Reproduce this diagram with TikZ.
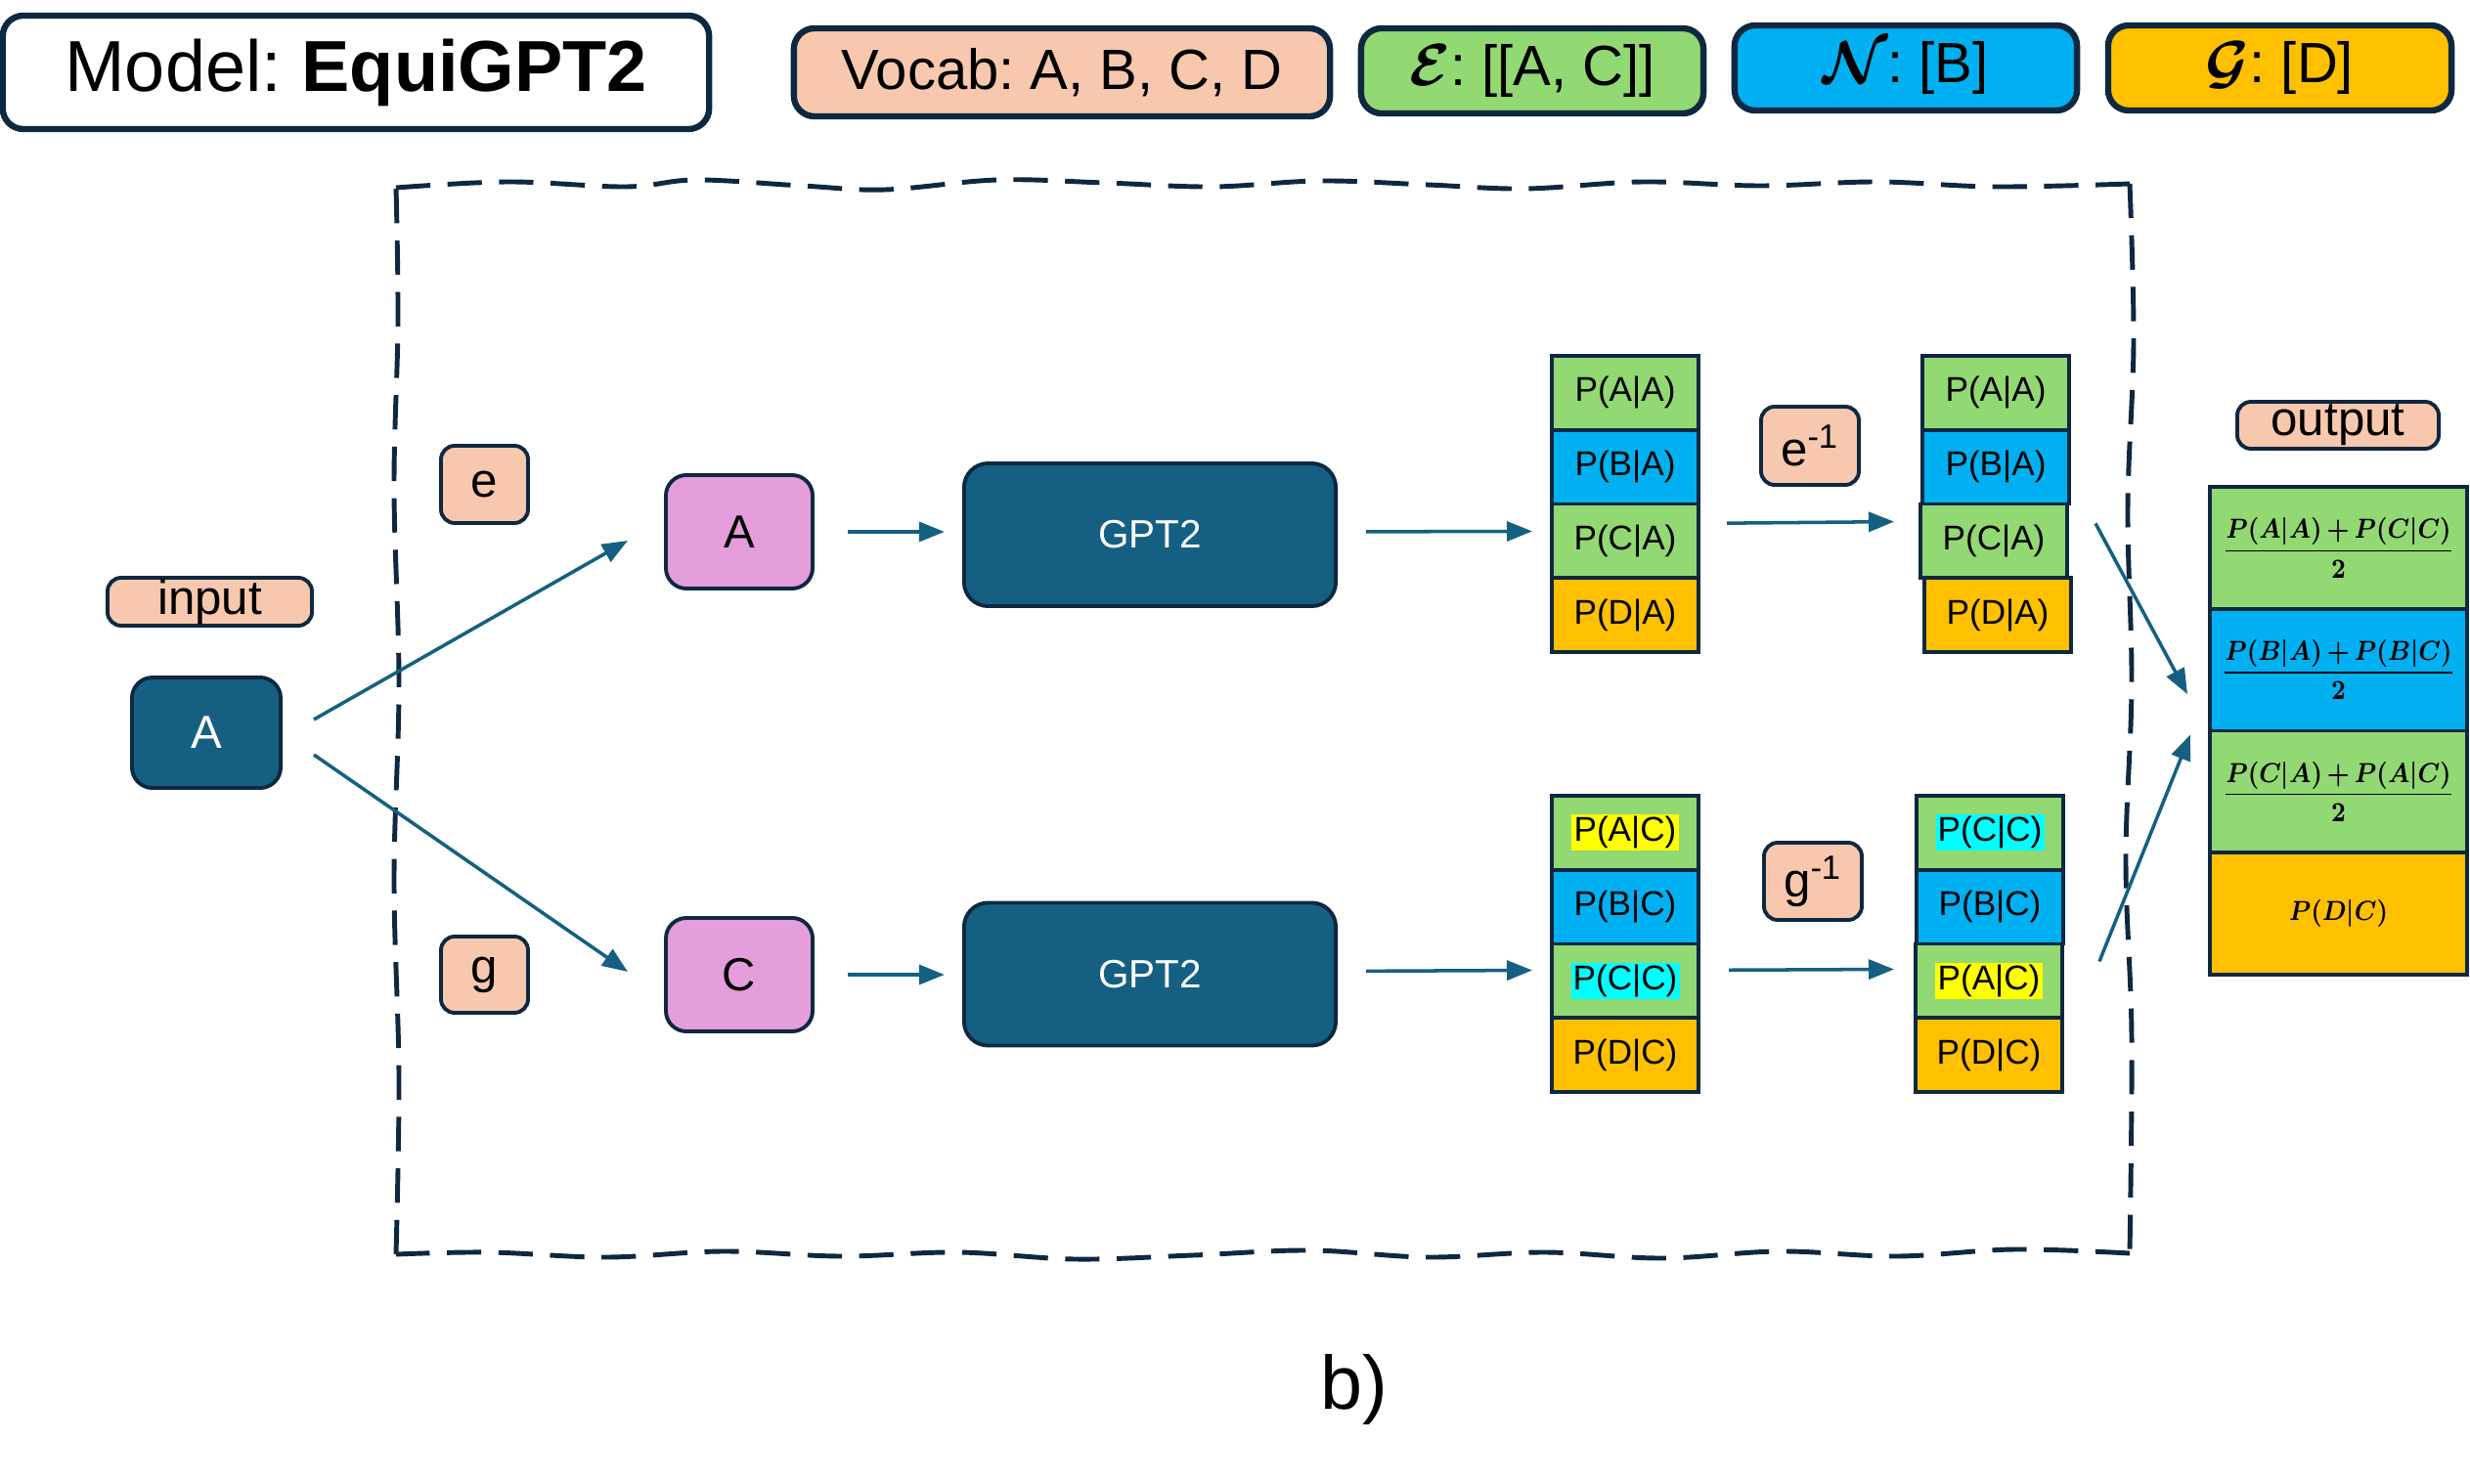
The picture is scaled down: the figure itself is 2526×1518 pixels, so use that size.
\documentclass[tikz,border=0pt]{standalone}
\usepackage{amsmath}
\usepackage{graphicx}
\usepackage{fontspec}
\setmainfont{Liberation Sans}
\usetikzlibrary{arrows.meta,calc}
\frenchspacing
\definecolor{cnavy}{HTML}{0E2841}
\definecolor{cteal}{HTML}{156082}
\definecolor{cpeach}{HTML}{F8C8AE}
\definecolor{cgreen}{HTML}{92D873}
\definecolor{cblue}{HTML}{00B0F0}
\definecolor{corange}{HTML}{FFC000}
\definecolor{cpink}{HTML}{E49EDC}
\definecolor{chy}{HTML}{FFFF00}
\definecolor{chc}{HTML}{00FFFF}
\newcommand\hly[1]{{\setlength{\fboxsep}{0.6pt}\colorbox{chy}{#1}}}
\newcommand\hlc[1]{{\setlength{\fboxsep}{0.6pt}\colorbox{chc}{#1}}}
\newcommand\bmat[1]{\mbox{\boldmath$#1$}}
\newcommand\bfrac[2]{\scalebox{0.86}[1]{\bmat{\medmuskip=3mu\displaystyle\frac{#1}{#2}}}}
\begin{document}
\begin{tikzpicture}[x=0.01cm,y=-0.01cm,
  legend/.style={draw=cnavy, line width=1.8pt, rounded corners=6pt, inner sep=0pt, font=\fontsize{16.5}{19}\selectfont},
  lbl/.style={draw=cnavy, fill=cpeach, line width=1.1pt, rounded corners=4pt, inner sep=0pt, font=\fontsize{14}{16}\selectfont},
  tok/.style={draw=cnavy, line width=1.1pt, rounded corners=6pt, inner sep=0pt, minimum width=1.5cm, minimum height=1.16cm, font=\fontsize{13.5}{15}\selectfont},
  gptbox/.style={draw=cnavy, fill=cteal, text=white, line width=1.1pt, rounded corners=7pt, minimum width=3.8cm, minimum height=1.46cm, font=\fontsize{11.5}{13}\selectfont},
  cell/.style={draw=cnavy, line width=1.1pt, minimum width=1.5cm, minimum height=0.7575cm, inner sep=0pt, font=\fontsize{10}{12}\selectfont},
  ocell/.style={draw=cnavy, line width=1.1pt, minimum width=2.63cm, minimum height=1.2475cm, inner sep=0pt, font=\fontsize{8.1}{9.5}\selectfont},
  arr/.style={draw=cteal, line width=1pt, -{Triangle[length=0.26cm,width=0.2cm]}},
  frame/.style={draw=cnavy, line width=1.4pt, dash pattern=on 10pt off 5pt}
]
\useasboundingbox (0,0) rectangle (2526,1518);

% legend
\node[legend, fill=white, minimum width=7.22cm, minimum height=1.16cm, font=\fontsize{21}{24}\selectfont] (model) at (364,74) {Model: \textbf{EquiGPT2}};
\node[legend, fill=cpeach, minimum width=5.48cm, minimum height=0.90cm] (vocab) at (1086,74) {Vocab: A, B, C, D};
\node[legend, fill=cgreen, minimum width=3.50cm, minimum height=0.87cm] (legE) at (1567,72.5) {\bmat{\mathcal{E}}: [[A, C]]};
\node[legend, fill=cblue, minimum width=3.50cm, minimum height=0.87cm] (legN) at (1949,69.5) {\bmat{\mathcal{N}}: [B]};
\node[legend, fill=corange, minimum width=3.51cm, minimum height=0.87cm] (legG) at (2331.5,69.5) {\bmat{\mathcal{G}}: [D]};

% dashed frame
\draw[frame] plot[smooth,tension=0.6] coordinates {(405,192)(520,186)(640,191)(712,184)(820,190)(905,194)(1020,184)(1130,187)(1240,191)(1350,185)(1460,189)(1560,193)(1680,186)(1800,190)(1920,186)(2040,191)(2178,188)};
\draw[frame] plot[smooth,tension=0.6] coordinates {(2178,188)(2182,350)(2176,520)(2180,700)(2174,880)(2180,1060)(2178,1282)};
\draw[frame] plot[smooth,tension=0.6] coordinates {(2178,1282)(2060,1278)(1940,1285)(1820,1280)(1700,1287)(1580,1281)(1460,1286)(1340,1279)(1220,1284)(1100,1288)(980,1281)(860,1285)(740,1280)(620,1286)(500,1281)(405,1283)};
\draw[frame] plot[smooth,tension=0.6] coordinates {(405,1283)(408,1100)(403,900)(408,700)(403,500)(407,330)(405,192)};

% input
\node[lbl, minimum width=2.09cm, minimum height=0.49cm] (inlbl) at (214.5,615.5) {input};
\node[tok, fill=cteal, text=white, minimum width=1.52cm, minimum height=1.13cm] (Ain) at (211,749.5) {A};

% transforms
\node[lbl, minimum width=0.89cm, minimum height=0.79cm] (elbl) at (495.5,495.5) {e};
\node[lbl, minimum width=0.89cm, minimum height=0.78cm] (glbl) at (495.5,997) {g};
\node[tok, fill=cpink] (Ap) at (756,544) {A};
\node[tok, fill=cpink] (Cp) at (756,997) {C};
\node[gptbox] (G1) at (1176,547) {GPT2};
\node[gptbox] (G2) at (1176,996.5) {GPT2};

% columns top
\node[cell, fill=cgreen] (c1a1) at (1662,401.9) {P(A|A)};
\node[cell, fill=cblue] (c1a2) at (1662,477.6) {P(B|A)};
\node[cell, fill=cgreen] (c1a3) at (1662,553.4) {P(C|A)};
\node[cell, fill=corange] (c1a4) at (1662,629.1) {P(D|A)};
\node[cell, fill=cgreen] (c2a1) at (2041,401.9) {P(A|A)};
\node[cell, fill=cblue] (c2a2) at (2041,477.6) {P(B|A)};
\node[cell, fill=cgreen] (c2a3) at (2039,553.4) {P(C|A)};
\node[cell, fill=corange] (c2a4) at (2043,629.1) {P(D|A)};
\node[lbl, minimum width=1.0cm, minimum height=0.80cm] (einv) at (1851,456) {e\textsuperscript{-1}};

% columns bottom
\node[cell, fill=cgreen] (c1b1) at (1662,851.9) {\hly{P(A|C)}};
\node[cell, fill=cblue] (c1b2) at (1662,927.6) {P(B|C)};
\node[cell, fill=cgreen] (c1b3) at (1662,1003.4) {\hlc{P(C|C)}};
\node[cell, fill=corange] (c1b4) at (1662,1079.1) {P(D|C)};
\node[cell, fill=cgreen] (c2b1) at (2035,851.9) {\hlc{P(C|C)}};
\node[cell, fill=cblue] (c2b2) at (2035,927.6) {P(B|C)};
\node[cell, fill=cgreen] (c2b3) at (2034,1003.4) {\hly{P(A|C)}};
\node[cell, fill=corange] (c2b4) at (2034,1079.1) {P(D|C)};
\node[lbl, minimum width=1.0cm, minimum height=0.79cm] (ginv) at (1854,901.5) {g\textsuperscript{-1}};

% output
\node[lbl, minimum width=2.06cm, minimum height=0.48cm] (outlbl) at (2391,435) {output};
\node[ocell, fill=cgreen] (o1) at (2391.5,560.4) {\bfrac{P(A|A)+P(C|C)}{2}};
\node[ocell, fill=cblue] (o2) at (2391.5,685.1) {\bfrac{P(B|A)+P(B|C)}{2}};
\node[ocell, fill=cgreen] (o3) at (2391.5,809.9) {\bfrac{P(C|A)+P(A|C)}{2}};
\node[ocell, fill=corange] (o4) at (2391.5,934.6) {\scalebox{0.86}[1]{\bmat{P(D|C)}}};

% caption
\node[font=\fontsize{22}{26}\selectfont] (cap) at (1385,1421) {b)};

% arrows
\draw[arr] ($(Ain.east)+(32,-13.5)$) -- ($(Ap.west)+(-37,9)$);
\draw[arr] ($(Ain.east)+(32,22.5)$) -- ($(Cp.west)+(-37,-3)$);
\draw[arr, shorten <=0.34cm, shorten >=0.18cm] (Ap.east) -- (Ap.east -| G1.west);
\draw[arr, shorten <=0.34cm, shorten >=0.18cm] (Cp.east) -- (Cp.east -| G2.west);
\draw[arr, shorten <=0.29cm, shorten >=0.18cm] ($(G1.east)+(0,-3)$) -- ($(c1a3.west)+(0,-10)$);
\draw[arr, shorten <=0.29cm, shorten >=0.18cm] ($(G2.east)+(0,-3)$) -- ($(c1b3.west)+(0,-11)$);
\draw[arr, shorten <=0.27cm, shorten >=0.25cm] ($(c1a3.east)+(0,-18)$) -- ($(c2a3.west)+(0,-20)$);
\draw[arr, shorten <=0.29cm, shorten >=0.20cm] ($(c1b3.east)+(0,-11)$) -- ($(c2b3.west)+(0,-12)$);
\draw[arr] ($(c2a3.east)+(27,-18)$) -- ($(o2.west)+(-21,25)$);
\draw[arr] ($(c2b3.east)+(36,-20)$) -- ($(o2.south west)+(-18,2)$);
\end{tikzpicture}
\end{document}
